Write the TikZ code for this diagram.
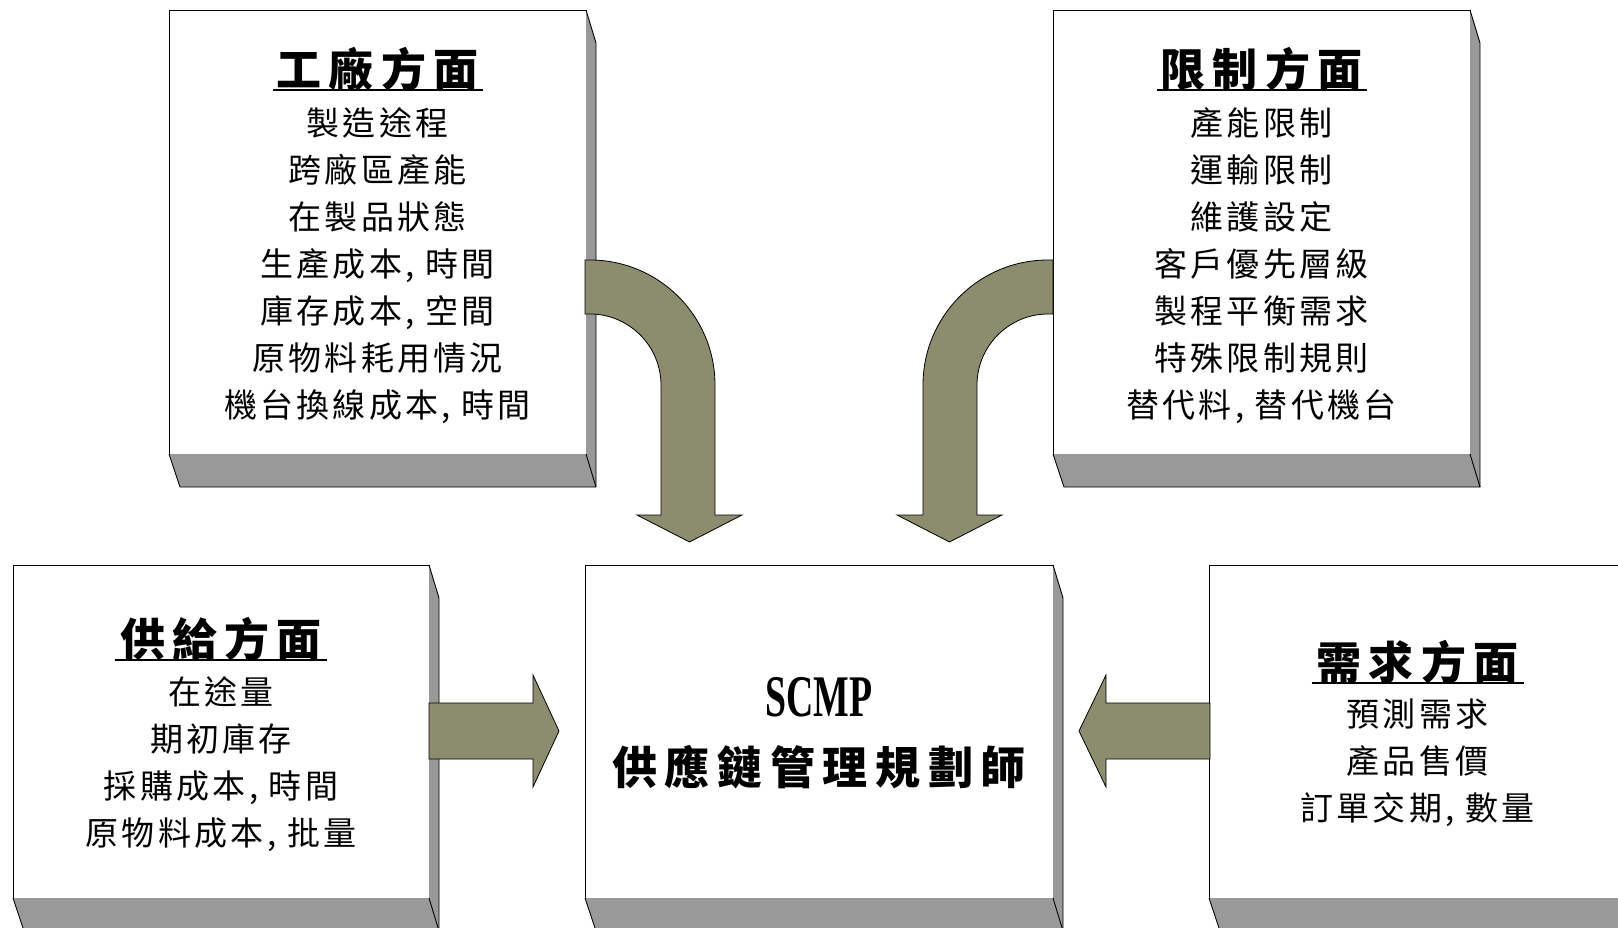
\documentclass[tikz,border=0pt]{standalone}
\usepackage{fontspec}
\setmainfont{Liberation Serif}
\newfontfamily\cjkitem[LetterSpace=10]{Noto Sans CJK TC}
\newfontfamily\cjktitle[LetterSpace=16]{Noto Sans CJK TC}
\newfontfamily\cjkbig[LetterSpace=17]{Noto Sans CJK TC}
\newfontfamily\scmpfont[FakeStretch=0.64]{Liberation Serif}
\usetikzlibrary{calc}
\definecolor{sidegray}{HTML}{999999}
\definecolor{arrowfill}{HTML}{8C8C6E}
\tikzset{
  frontface/.style={draw=black, line width=0.9pt, fill=white, inner sep=0pt, outer sep=0pt, anchor=north west},
  sidefill/.style={fill=sidegray},
  sideline/.style={draw=black, line width=0.9pt, line join=round},
  blockarrow/.style={draw=black, line width=0.8pt, fill=arrowfill, line join=miter},
  itemtext/.style={font=\fontsize{33}{47}\cjkitem, align=center, inner sep=0pt},
  titletext/.style={font=\fontsize{45}{50}\cjktitle\bfseries, inner sep=0pt},
  uline/.style={line width=1.8pt},
}
\newcommand\boxdepth[1]{%
  \fill[sidefill] (#1.north east) -- ($(#1.north east)+(10,33)$) -- ($(#1.south east)+(10,33)$) -- ($(#1.south west)+(11,33)$) -- (#1.south west) -- (#1.south east) -- cycle;
  \draw[sideline] (#1.north east) -- ($(#1.north east)+(10,33)$) -- ($(#1.south east)+(10,33)$) -- ($(#1.south west)+(11,33)$) -- (#1.south west);
  \draw[sideline] (#1.south east) -- ($(#1.south east)+(10,33)$);
}
\begin{document}
\begin{tikzpicture}[x=1pt,y=-1pt]
\useasboundingbox (0,0) rectangle (1618,928);
\clip (0,0) rectangle (1618,928);
\fill[white] (0,0) rectangle (1618,928);

% boxes (front faces)
\node[frontface, minimum width=417pt, minimum height=444pt] (fac) at (169,10) {};
\node[frontface, minimum width=417pt, minimum height=444pt] (lim) at (1053,10) {};
\node[frontface, minimum width=416pt, minimum height=333pt] (sup) at (13,565) {};
\node[frontface, minimum width=468pt, minimum height=333pt] (scmp) at (585,565) {};
\node[frontface, minimum width=431pt, minimum height=333pt] (dem) at (1209,565) {};
\boxdepth{fac}
\boxdepth{lim}
\boxdepth{sup}
\boxdepth{scmp}
\boxdepth{dem}

% block arrows
\draw[blockarrow] (585,260) -- (590,260) .. controls (659,260) and (715,316) .. (715,385)
  -- (715,515) -- (742,515) -- (689.5,542) -- (637,515) -- (661,515) -- (661,385)
  .. controls (661,346) and (629,314) .. (590,314) -- (585,314) -- cycle;
\draw[blockarrow] (1053,260) -- (1048,260) .. controls (979,260) and (923,316) .. (923,385)
  -- (923,515) -- (897,515) -- (949.5,542) -- (1002,515) -- (977,515) -- (977,385)
  .. controls (977,346) and (1009,314) .. (1048,314) -- (1053,314) -- cycle;
\draw[blockarrow] (429,703) -- (533,703) -- (533,675) -- (559,731) -- (533,787) -- (533,759) -- (429,759) -- cycle;
\draw[blockarrow] (1210,703) -- (1106,703) -- (1106,675) -- (1079,731) -- (1106,787) -- (1106,759) -- (1210,759) -- cycle;

% factory box
\node[titletext] (facT) at (377.5,69) {工廠方面};
\draw[uline] ($(facT.center)+(-105,21)$) -- ($(facT.center)+(105,21)$);
\node[itemtext] (facL) at (377.5,266) {製造途程\\跨廠區產能\\在製品狀態\\生產成本, 時間\\庫存成本, 空間\\原物料耗用情況\\機台換線成本, 時間};

% limit box
\node[titletext] (limT) at (1261.5,69) {限制方面};
\draw[uline] ($(limT.center)+(-105,21)$) -- ($(limT.center)+(105,21)$);
\node[itemtext] (limL) at (1261.5,266) {產能限制\\運輸限制\\維護設定\\客戶優先層級\\製程平衡需求\\特殊限制規則\\替代料, 替代機台};

% supply box
\node[titletext] (supT) at (221,639) {供給方面};
\draw[uline] ($(supT.center)+(-106,21)$) -- ($(supT.center)+(106,21)$);
\node[itemtext] (supL) at (221,764) {在途量\\期初庫存\\採購成本, 時間\\原物料成本, 批量};

% demand box
\node[titletext] (demT) at (1417.5,662) {需求方面};
\draw[uline] ($(demT.center)+(-106,21)$) -- ($(demT.center)+(106,21)$);
\node[itemtext] (demL) at (1417.5,763) {預測需求\\產品售價\\訂單交期, 數量};

% center box
\node[inner sep=0pt, font=\fontsize{59}{62}\scmpfont\bfseries] (scmpA) at (819,697) {SCMP};
\node[inner sep=0pt, font=\fontsize{45}{50}\cjkbig\bfseries] (scmpB) at (819,767) {供應鏈管理規劃師};
\end{tikzpicture}
\end{document}
